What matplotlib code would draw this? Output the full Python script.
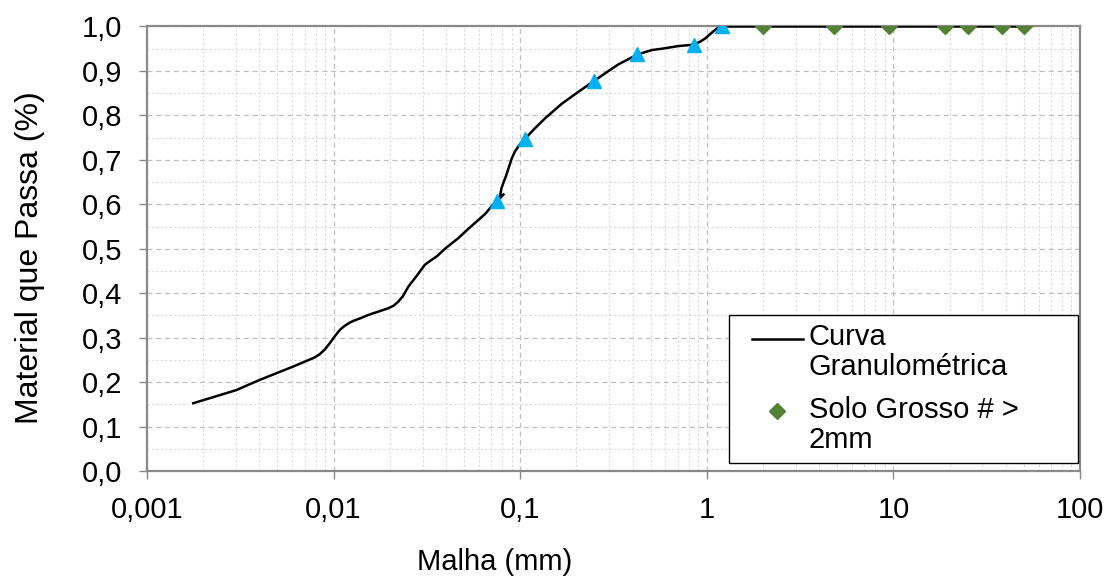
import matplotlib
matplotlib.use("Agg")
import matplotlib.pyplot as plt
from matplotlib.ticker import MultipleLocator, LogLocator, FuncFormatter, NullFormatter
from matplotlib.legend_handler import HandlerLine2D

plt.rcParams['font.family'] = ['Liberation Sans', 'DejaVu Sans']

# curva de sedimentacao
sed_x = [0.00177, 0.00301, 0.00402, 0.00607, 0.00778, 0.0081, 0.00844, 0.0090,
         0.00956, 0.0101, 0.01083, 0.0115, 0.01223, 0.0128, 0.0140, 0.01532,
         0.01961, 0.0210, 0.02221, 0.0235, 0.02517, 0.0280, 0.03083, 0.0330,
         0.0360, 0.03951, 0.04663, 0.05278, 0.06478, 0.07141, 0.075, 0.0766]
sed_y = [0.1525, 0.182, 0.205, 0.235, 0.254, 0.258, 0.263, 0.274,
         0.288, 0.302, 0.318, 0.327, 0.334, 0.338, 0.344, 0.351,
         0.366, 0.372, 0.381, 0.393, 0.415, 0.440, 0.464, 0.473,
         0.484, 0.500, 0.524, 0.545, 0.578, 0.599, 0.607, 0.613]

# curva do peneiramento
pen_x = [0.0813, 0.0777, 0.0792, 0.0824, 0.0840, 0.0858, 0.0880, 0.0901, 0.0935,
         0.0976, 0.1015, 0.106, 0.118, 0.1356, 0.1668, 0.2049, 0.25, 0.2976,
         0.3366, 0.425, 0.5073, 0.5746, 0.7054, 0.85, 0.923, 0.98, 1.063, 1.13,
         1.2, 2, 4.8, 9.5, 19, 25, 38, 50]
pen_y = [0.622, 0.613, 0.635, 0.655, 0.664, 0.676, 0.690, 0.703, 0.718,
         0.730, 0.739, 0.747, 0.768, 0.793, 0.826, 0.853, 0.878, 0.900,
         0.915, 0.937, 0.947, 0.950, 0.956, 0.959, 0.966, 0.973, 0.986, 0.995,
         1.0, 1.0, 1.0, 1.0, 1.0, 1.0, 1.0, 1.0]

# peneiras finas (triangulos)
fino_x = [0.075, 0.106, 0.25, 0.425, 0.85, 1.2]
fino_y = [0.607, 0.747, 0.878, 0.937, 0.959, 1.0]

# solo grosso # > 2mm (losangos)
grosso_x = [2, 4.8, 9.5, 19, 25, 38, 50]
grosso_y = [1.0, 1.0, 1.0, 1.0, 1.0, 1.0, 1.0]

fig = plt.figure(figsize=(11.11, 5.81), dpi=100)
ax = fig.add_axes([0.1323, 0.1893, 0.8398, 0.7651])

ax.plot(sed_x, sed_y, color='black', lw=1.8, zorder=3, label='Curva\nGranulométrica')
ax.plot(pen_x, pen_y, color='black', lw=1.8, zorder=3)
ax.plot(fino_x, fino_y, ls='none', marker='^', ms=9.5, color='#00B0F0', zorder=4)
ax.plot(grosso_x, grosso_y, ls='none', marker='D', ms=8, color='#538135',
        zorder=4, label='Solo Grosso # >\n2mm')

ax.set_xscale('log')
ax.set_xlim(0.001, 100)
ax.set_ylim(0, 1)

ax.yaxis.set_major_locator(MultipleLocator(0.1))
ax.yaxis.set_minor_locator(MultipleLocator(0.05))
ax.yaxis.set_major_formatter(FuncFormatter(lambda v, p: f"{v:.1f}".replace('.', ',')))
ax.xaxis.set_major_locator(LogLocator(base=10))
ax.xaxis.set_minor_locator(LogLocator(base=10, subs=range(2, 10)))
ax.xaxis.set_major_formatter(FuncFormatter(lambda v, p: f"{v:g}".replace('.', ',')))
ax.xaxis.set_minor_formatter(NullFormatter())

ax.grid(which='major', color='#BFBFBF', ls=(0, (4, 3)), lw=0.9)
ax.grid(which='minor', color='#D9D9D9', ls=(0, (2, 2)), lw=0.8)
ax.set_axisbelow(True)

for s in ax.spines.values():
    s.set_color('#898989')
    s.set_linewidth(1.6)

ax.tick_params(which='major', direction='out', length=6, width=1, color='#898989',
               labelsize=21)
ax.tick_params(axis='x', which='major', pad=12)
ax.tick_params(axis='y', which='major', pad=12)
ax.tick_params(which='minor', length=0)

ax.set_xlabel('Malha (mm)', fontsize=21)
ax.set_ylabel('Material que Passa (%)', fontsize=23)
ax.xaxis.set_label_coords(0.373, -0.205)
ax.xaxis.label.set_va('center')
ax.yaxis.set_label_coords(-0.1254, 0.481)
ax.yaxis.label.set_va('center')

leg = ax.legend(loc='lower left', bbox_to_anchor=(0.624, 0.018, 0.374, 0.326),
                mode='expand', borderaxespad=0, fontsize=21, fancybox=False,
                framealpha=1, edgecolor='black', handlelength=2.23,
                handletextpad=0.2, labelspacing=0.5, borderpad=0.3,
                handler_map={plt.Line2D: HandlerLine2D(xpad=0.48)})
leg.get_frame().set_linewidth(1.0)
for t in leg.get_texts():
    t.set_linespacing(1.1)
# alinhar simbolos com a primeira linha do texto (como no Excel)
for h in leg.legend_handles:
    h.set_ydata([y + 10.5 for y in h.get_ydata()])

fig.savefig('out.png', dpi=100)
